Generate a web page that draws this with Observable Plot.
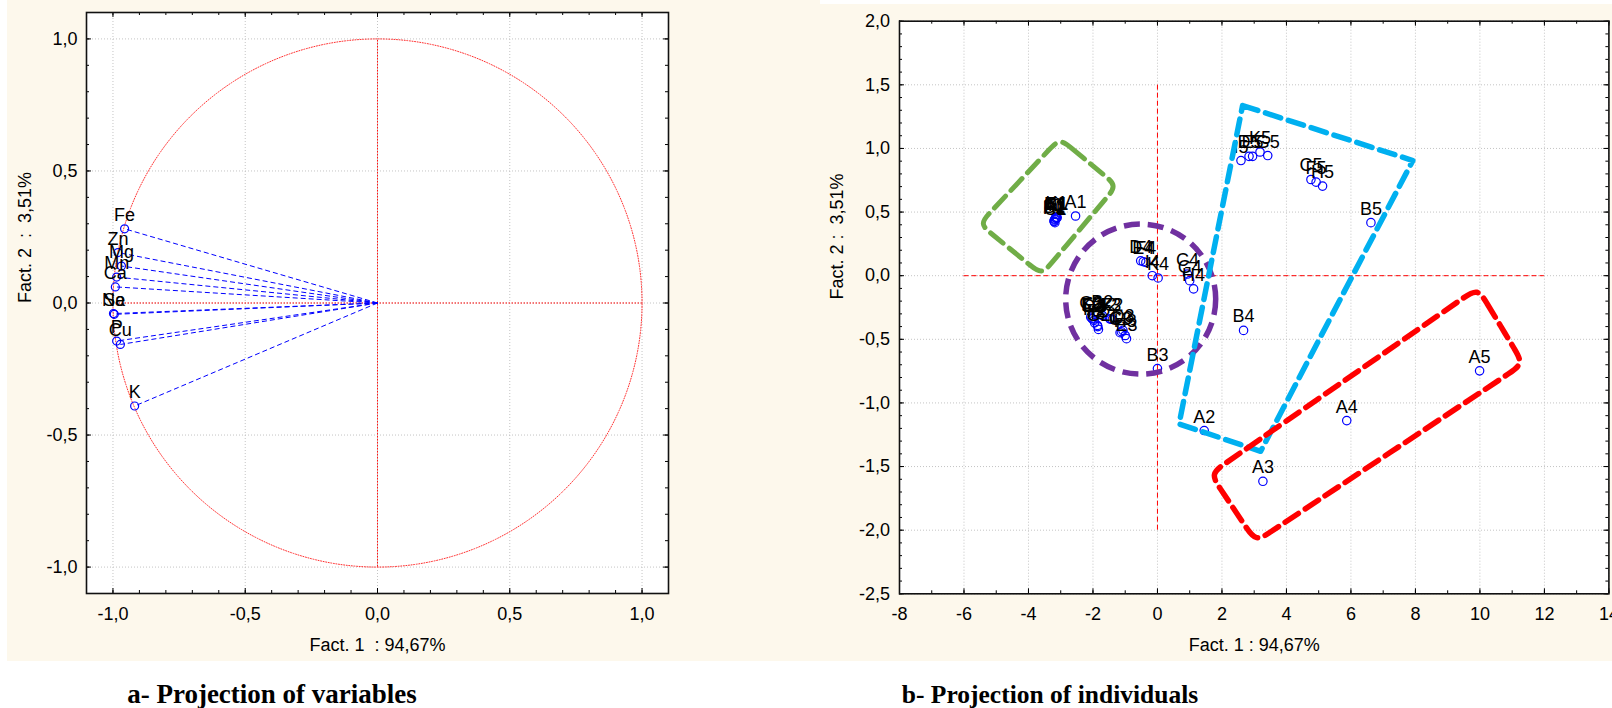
<!DOCTYPE html>
<html><head><meta charset="utf-8">
<script src="https://cdn.jsdelivr.net/npm/d3@7"></script>
<script src="https://cdn.jsdelivr.net/npm/@observablehq/plot@0.6"></script>
<style>
html,body{margin:0;padding:0;background:#fff;overflow:hidden;}
#page{position:relative;width:1612px;height:708px;font-family:"Liberation Sans",Arial,sans-serif;}
.cream{position:absolute;background:#fdf8ec;}
.cap{position:absolute;font-family:"Liberation Serif","Times New Roman",serif;font-weight:bold;font-size:25.5px;line-height:26px;white-space:pre;transform:translateX(-50%);color:#000;}
.plot{position:absolute;top:0;}
</style></head><body>
<div id="page">
  <div class="cream" style="left:7px;top:0;width:813px;height:661px"></div>
  <div class="cream" style="left:820px;top:4px;width:792px;height:657px"></div>
  <div id="pa" class="plot" style="left:0"></div>
  <div id="pb" class="plot" style="left:820px"></div>
  <div class="cap" style="left:272px;top:681px;font-size:27px">a- Projection of variables</div>
  <div class="cap" style="left:1050px;top:682px">b- Projection of individuals</div>
</div>
<script>
// ---------- Panel a: projection of variables ----------
const varNames = ["Fe","Zn","Mg","Mn","Ca","Se","Na","P","Cu","K"];
const varF1 = [-0.956,-0.981,-0.968,-0.986,-0.991,-0.995,-0.998,-0.986,-0.972,-0.918];
const varF2 = [0.281,0.191,0.140,0.098,0.061,-0.043,-0.040,-0.144,-0.157,-0.390];

// ---------- Panel b: projection of individuals ----------
const indNames = ["A1","B1","C1","D1","E1","F1","G1","H1","I1","K1",
  "A2","B2","C2","D2","E2","F2","G2","H2","I2","K2",
  "A3","B3","C3","D3","E3","F3","G3","H3","I3","K3",
  "A4","B4","C4","D4","E4","F4","G4","H4","I4","K4",
  "A5","B5","C5","D5","E5","F5","G5","H5","I5","K5"];
const indF1 = [-2.54,-3.21,-3.18,-3.16,-3.11,-3.19,-3.14,-3.20,-3.17,-3.13,
  1.45,-1.71,-2.07,-1.97,-2.02,-1.86,-1.83,-1.95,-1.48,-1.40,
  3.27,0.00,-1.16,-1.07,-0.96,-1.45,-1.12,-1.00,-1.85,-2.03,
  5.87,2.67,0.93,-0.52,-0.44,-0.36,1.00,1.12,-0.16,0.02,
  9.99,6.62,4.76,2.84,2.95,4.92,3.42,5.12,2.59,3.18];
const indF2 = [0.469,0.430,0.417,0.456,0.456,0.440,0.450,0.425,0.445,0.460,
  -1.217,-0.313,-0.326,-0.352,-0.340,-0.391,-0.422,-0.370,-0.339,-0.344,
  -1.616,-0.730,-0.448,-0.430,-0.495,-0.342,-0.440,-0.470,-0.400,-0.335,
  -1.139,-0.430,0.013,0.117,0.110,0.104,-0.039,-0.104,0.000,-0.018,
  -0.748,0.417,0.756,0.938,0.938,0.735,0.944,0.704,0.905,0.972];

// group outlines (corner coordinates, factor units)
const greenX = [-3.03,-1.26,-3.59,-5.52];
const greenY = [1.079,0.708,0.008,0.407];
const cyanX = [2.64,7.92,3.20,0.67];
const cyanY = [1.337,0.905,-1.380,-1.165];
const redX = [9.93,11.35,3.05,1.64];
const redY = [-0.097,-0.693,-2.091,-1.557];
const purpleCenter = [{x:-0.52, y:-0.184}];

// axis ticks & titles
const ticksA = [-1,-0.5,0,0.5,1];
const ticksBX = [-8,-6,-4,-2,0,2,4,6,8,10,12,14];
const ticksBY = [-2.5,-2,-1.5,-1,-0.5,0,0.5,1,1.5,2];
const titleAX = "Fact. 1\u00a0\u00a0: 94,67%";
const titleAY = "Fact. 2\u00a0\u00a0:\u00a0\u00a03,51%";
const titleBX = "Fact. 1 : 94,67%";
const titleBY = "Fact. 2 :\u00a0\u00a03,51%";

const vars = varNames.map((n,i)=>({name:n, f1:varF1[i], f2:varF2[i]}));
const inds = indNames.map((n,i)=>({name:n, f1:indF1[i], f2:indF2[i]}));

const FONT = '"Liberation Sans", Arial, sans-serif';
const TICKFS = 18, LABELFS = 18, TITLEFS = 18;
const fmtComma = d => d.toFixed(1).replace(".", ",");
const gridStyle = {stroke:"#c4c4c4", strokeDasharray:"1,2", strokeWidth:1};
const BLUE = "#0000ff";

function frameTicks(xMaj, xMin, yMaj, yMin, pw, ph) {
  const st = {stroke:"#000", strokeWidth:1};
  const M = 5, m = 3;
  return [
    Plot.ruleX(xMaj, {...st, insetTop: ph - M}),
    Plot.ruleX(xMaj, {...st, insetBottom: ph - M}),
    Plot.ruleX(xMin, {...st, insetTop: ph - m}),
    Plot.ruleX(xMin, {...st, insetBottom: ph - m}),
    Plot.ruleY(yMaj, {...st, insetRight: pw - M}),
    Plot.ruleY(yMaj, {...st, insetLeft: pw - M}),
    Plot.ruleY(yMin, {...st, insetRight: pw - m}),
    Plot.ruleY(yMin, {...st, insetLeft: pw - m})
  ];
}

// ---------- Plot A ----------
{
  const W = 820, H = 661, mT = 12, mR = 152, mB = 68, mL = 86;
  const pw = W - mL - mR, ph = H - mT - mB;
  const minor = d3.range(-11, 12).map(i => i / 10);
  const circle = d3.range(0, 721).map(i => ({x: Math.cos(i * Math.PI / 360), y: Math.sin(i * Math.PI / 360)}));
  const chart = Plot.plot({
    width: W, height: H, marginTop: mT, marginRight: mR, marginBottom: mB, marginLeft: mL,
    x: {domain: [-1.1, 1.1]}, y: {domain: [-1.1, 1.1]},
    style: {background: "transparent", fontFamily: FONT, fontSize: TICKFS + "px", overflow: "visible", maxWidth: "none", color: "#000"},
    marks: [
      Plot.frame({fill: "white", stroke: null}),
      Plot.ruleX(ticksA, gridStyle),
      Plot.ruleY(ticksA, gridStyle),
      Plot.line(circle, {x: "x", y: "y", stroke: "#ff3030", strokeWidth: 1, strokeDasharray: "1,1.6"}),
      Plot.ruleX([0], {y1: -1, y2: 1, stroke: "#ff0000", strokeWidth: 1, strokeDasharray: "1.5,1.5"}),
      Plot.ruleY([0], {x1: -1, x2: 1, stroke: "#ff0000", strokeWidth: 1, strokeDasharray: "1.5,1.5"}),
      Plot.link(vars, {x1: 0, y1: 0, x2: "f1", y2: "f2", stroke: BLUE, strokeWidth: 1, strokeDasharray: "5,3"}),
      Plot.dot(vars, {x: "f1", y: "f2", r: 4, stroke: BLUE, strokeWidth: 1.2, fill: "none"}),
      Plot.text(vars, {x: "f1", y: "f2", text: "name", lineAnchor: "bottom", dy: -8, fontSize: LABELFS, fill: "#000"}),
      ...frameTicks(ticksA, minor, ticksA, minor, pw, ph),
      Plot.frame({stroke: "#111", strokeWidth: 1.6}),
      Plot.axisX(ticksA, {tickSize: 0, tickPadding: 14, tickFormat: fmtComma, label: null, fontSize: TICKFS}),
      Plot.axisY(ticksA, {tickSize: 0, tickPadding: 9, tickFormat: fmtComma, label: null, fontSize: TICKFS}),
      Plot.text([titleAX], {frameAnchor: "bottom", dy: 52, lineAnchor: "middle", fontSize: TITLEFS, fill: "#000"}),
      Plot.text([titleAY], {frameAnchor: "left", dx: -61, rotate: -90, lineAnchor: "middle", fontSize: TITLEFS, fill: "#000"})
    ]
  });
  document.getElementById("pa").append(chart);
}

// ---------- Plot B ----------
{
  const W = 792, H = 661, mT = 20.7, mR = 3.6, mB = 67.7, mL = 79;
  const pw = W - mL - mR, ph = H - mT - mB;
  const xd = [-8, 14], yd = [-2.5, 2];
  const kx = pw / (xd[1] - xd[0]), ky = ph / (yd[1] - yd[0]);
  function outline(xs, ys, rad) {
    const n = xs.length, pts = [];
    for (let i = 0; i < n; i++) {
      const j = (i + 1) % n;
      const L = Math.hypot((xs[j] - xs[i]) * kx, (ys[j] - ys[i]) * ky);
      const t = rad / L;
      pts.push({x: xs[i], y: ys[i]});
      for (const s of [t, 2 * t, 1 - 2 * t, 1 - t]) pts.push({x: xs[i] + s * (xs[j] - xs[i]), y: ys[i] + s * (ys[j] - ys[i])});
    }
    return pts;
  }
  const corners = (xs, ys) => xs.map((x, i) => ({x, y: ys[i]}));
  const minorX = d3.range(-8, 15);
  const minorY = d3.range(-25, 21).map(i => i / 10);
  const dash = "16,8";
  const chart = Plot.plot({
    width: W, height: H, marginTop: mT, marginRight: mR, marginBottom: mB, marginLeft: mL,
    x: {domain: xd}, y: {domain: yd},
    style: {background: "transparent", fontFamily: FONT, fontSize: TICKFS + "px", overflow: "visible", maxWidth: "none", color: "#000"},
    marks: [
      Plot.frame({fill: "white", stroke: null}),
      Plot.ruleX(ticksBX, gridStyle),
      Plot.ruleY(ticksBY, gridStyle),
      Plot.ruleX([0], {y1: -2, y2: 1.5, stroke: "#ff0000", strokeWidth: 1, strokeDasharray: "5,3"}),
      Plot.ruleY([0], {x1: -6, x2: 12, stroke: "#ff0000", strokeWidth: 1, strokeDasharray: "5,3"}),
      Plot.dot(inds, {x: "f1", y: "f2", r: 4.2, stroke: BLUE, strokeWidth: 1.2, fill: "none"}),
      Plot.text(inds, {x: "f1", y: "f2", text: "name", lineAnchor: "bottom", dy: -8, fontSize: LABELFS, fill: "#000"}),
      Plot.line(outline(greenX, greenY, 16), {x: "x", y: "y", curve: "basis-closed", stroke: "#70ad47", strokeWidth: 5, strokeDasharray: dash}),
      Plot.dot(purpleCenter, {x: "x", y: "y", r: 75, stroke: "#7030a0", strokeWidth: 5.5, strokeDasharray: dash, fill: "none"}),
      Plot.line(corners(cyanX, cyanY), {x: "x", y: "y", curve: "linear-closed", stroke: "#00b0f0", strokeWidth: 5.5, strokeDasharray: dash}),
      Plot.line(outline(redX, redY, 18), {x: "x", y: "y", curve: "basis-closed", stroke: "#ff0000", strokeWidth: 5.5, strokeDasharray: dash}),
      ...frameTicks(ticksBX, minorX, ticksBY, minorY, pw, ph),
      Plot.frame({stroke: "#111", strokeWidth: 1.6}),
      Plot.axisX(ticksBX, {tickSize: 0, tickPadding: 13, tickFormat: d => String(d), label: null, fontSize: TICKFS}),
      Plot.axisY(ticksBY, {tickSize: 0, tickPadding: 9.5, tickFormat: fmtComma, label: null, fontSize: TICKFS}),
      Plot.text([titleBX], {frameAnchor: "bottom", dy: 51.7, lineAnchor: "middle", fontSize: TITLEFS, fill: "#000"}),
      Plot.text([titleBY], {frameAnchor: "left", dx: -62, dy: -8, rotate: -90, lineAnchor: "middle", fontSize: TITLEFS, fill: "#000"})
    ]
  });
  document.getElementById("pb").append(chart);
}
</script>
</body></html>
